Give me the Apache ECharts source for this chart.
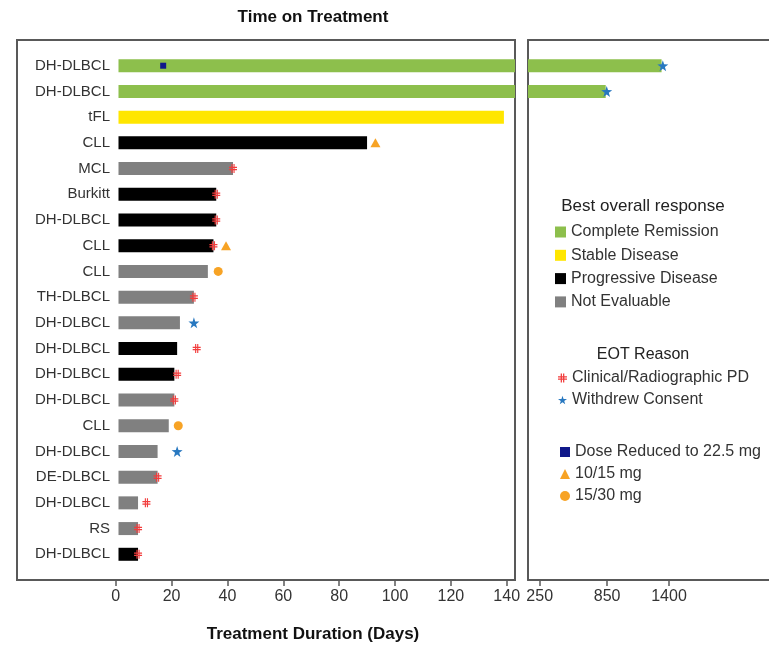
<!DOCTYPE html>
<html><head><meta charset="utf-8">
<script src="https://cdn.jsdelivr.net/npm/echarts@6/dist/echarts.min.js"></script>
<style>html,body{margin:0;padding:0;background:#fff}#c{width:769px;height:645px}</style>
</head><body><div id="c"></div>
<script>
// ---------- DATA ----------
const labels = ['DH-DLBCL','DH-DLBCL','tFL','CLL','MCL','Burkitt','DH-DLBCL','CLL','CLL','TH-DLBCL',
                'DH-DLBCL','DH-DLBCL','DH-DLBCL','DH-DLBCL','CLL','DH-DLBCL','DE-DLBCL','DH-DLBCL','RS','DH-DLBCL'];
const duration = [1334, 837, 139, 90, 42, 36, 36, 35, 33, 28, 23, 22, 21, 21, 19, 15, 15, 8, 8, 8];
const response = ['CR','CR','SD','PD','NE','PD','PD','PD','NE','NE','NE','PD','PD','NE','NE','NE','NE','NE','NE','PD'];
const responseCodes = ['CR','SD','PD','NE'];
const responseNames = ['Complete Remission','Stable Disease','Progressive Disease','Not Evaluable'];

const pdRows = [4, 5, 6, 7, 9, 11, 12, 13, 16, 17, 18, 19];
const pdDays = [42, 36, 36, 35, 28, 29, 22, 21, 15, 11, 8, 8];
const wcRows = [0, 1, 10, 15];
const wcDays = [1345, 846, 28, 22];
const doseRedRows = [0];
const doseRedDays = [17];
const d1015Rows = [3, 7];
const d1015Days = [93, 39.5];
const d1530Rows = [8, 14];
const d1530Days = [36.7, 22.4];

const ticksLeft = [0, 20, 40, 60, 80, 100, 120, 140];
const ticksRight = [250, 850, 1400];

// ---------- STYLE / LAYOUT ----------
const FONT = 'Liberation Sans';
const colors = {CR:'#8dbf4c', SD:'#ffe600', PD:'#000000', NE:'#808080'};
const LEFT_MIN = -35.34, LEFT_MAX = 142.97;
const RIGHT_MIN = 145.9, RIGHT_MAX = 2289.4;
const HASH = 'path://M3,0h1.4v10h-1.4z M5.6,0h1.4v10h-1.4z M0,3h10v1.4h-10z M0,5.6h10v1.4h-10z';

const yCats = [''].concat(labels, ['']);

function barData(code) {
  return [null].concat(duration.map((v, i) => response[i] === code ? v : null), [null]);
}
function pts(rows, days, grid) {
  const out = [];
  rows.forEach((r, k) => {
    const d = days[k];
    if ((grid === 0 && d <= LEFT_MAX) || (grid === 1 && d > LEFT_MAX)) out.push([d, r + 1]);
  });
  return out;
}

const series = [];
[0, 1].forEach(g => {
  responseCodes.forEach((code, k) => {
    series.push({
      type: 'bar', name: responseNames[k], xAxisIndex: g, yAxisIndex: g,
      data: barData(code), barWidth: 13, barGap: '-100%', clip: true,
      itemStyle: {color: colors[code]}, z: 2, silent: true
    });
  });
});
const markerDefs = [
  {name: 'Clinical/Radiographic PD', rows: pdRows, days: pdDays, symbol: HASH, size: [8, 9], color: '#f23c3c'},
  {name: 'Withdrew Consent', rows: wcRows, days: wcDays, symbol: 'path://M50,0 L61.8,35.5 L100,36.3 L69.1,58.8 L80.2,95 L50,73 L19.8,95 L30.9,58.8 L0,36.3 L38.2,35.5 Z', size: 11, color: '#2878c0'},
  {name: 'Dose Reduced to 22.5 mg', rows: doseRedRows, days: doseRedDays, symbol: 'rect', size: 6, color: '#10188a'},
  {name: '10/15 mg', rows: d1015Rows, days: d1015Days, symbol: 'triangle', size: [10, 9], color: '#f7a325'},
  {name: '15/30 mg', rows: d1530Rows, days: d1530Days, symbol: 'circle', size: 9, color: '#f7a325'}
];
[0, 1].forEach(g => {
  markerDefs.forEach(m => {
    series.push({
      type: 'scatter', name: m.name, xAxisIndex: g, yAxisIndex: g,
      data: pts(m.rows, m.days, g), symbol: m.symbol, symbolSize: m.size,
      itemStyle: {color: m.color, opacity: 1}, z: 5, silent: true
    });
  });
});

const axisTextColor = '#333';
const boxColor = '#595959';
const boxLine = {show: true, onZero: false, lineStyle: {color: boxColor, width: 2}};
const fmt = v => String(v);

const option = {
  animation: false,
  backgroundColor: '#fff',
  textStyle: {fontFamily: FONT},
  grid: [
    {left: 17, top: 40, width: 498, height: 540, show: true, borderColor: boxColor, borderWidth: 2, backgroundColor: 'transparent'},
    {left: 528, top: 40, width: 241, height: 540, show: false}
  ],
  xAxis: [
    {gridIndex: 0, type: 'value', min: LEFT_MIN, max: LEFT_MAX, startValue: 1,
     axisLine: {show: false}, splitLine: {show: false},
     axisTick: {show: true, customValues: ticksLeft, length: 6, lineStyle: {color: boxColor, width: 1.5}},
     axisLabel: {customValues: ticksLeft, formatter: fmt, fontSize: 16, color: axisTextColor, margin: 9, fontFamily: FONT}},
    {gridIndex: 1, type: 'value', min: RIGHT_MIN, max: RIGHT_MAX, position: 'bottom',
     axisLine: boxLine, splitLine: {show: false},
     axisTick: {show: true, customValues: ticksRight, length: 6, lineStyle: {color: boxColor, width: 1.5}},
     axisLabel: {customValues: ticksRight, formatter: fmt, fontSize: 16, color: axisTextColor, margin: 9, fontFamily: FONT}},
    {gridIndex: 1, type: 'value', min: RIGHT_MIN, max: RIGHT_MAX, position: 'top',
     axisLine: boxLine, splitLine: {show: false}, axisTick: {show: false}, axisLabel: {show: false}}
  ],
  yAxis: [
    {gridIndex: 0, type: 'category', data: yCats, inverse: true, boundaryGap: false,
     axisLine: {show: false, onZero: false}, axisTick: {show: false}, splitLine: {show: false},
     axisLabel: {fontSize: 15, color: axisTextColor, margin: -93, align: 'right', fontFamily: FONT, interval: 0}},
    {gridIndex: 1, type: 'category', data: yCats, inverse: true, boundaryGap: false, position: 'left',
     axisLine: boxLine, axisTick: {show: false}, splitLine: {show: false},
     axisLabel: {show: false}}
  ],
  legend: [
    {data: responseNames, orient: 'vertical', left: 555, top: 224, itemWidth: 11, itemHeight: 11, itemGap: 7.3,
     icon: 'rect', selectedMode: false, padding: 0,
     textStyle: {fontSize: 16, color: axisTextColor, lineHeight: 16, fontFamily: FONT}},
    {data: ['Clinical/Radiographic PD', 'Withdrew Consent'], orient: 'vertical', left: 558, top: 370,
     itemWidth: 9, itemHeight: 9, itemGap: 6, selectedMode: false, padding: 0,
     textStyle: {fontSize: 16, color: axisTextColor, lineHeight: 16, fontFamily: FONT}},
    {data: ['Dose Reduced to 22.5 mg', '10/15 mg', '15/30 mg'], orient: 'vertical', left: 560, top: 444,
     itemWidth: 10, itemHeight: 10, itemGap: 6, selectedMode: false, padding: 0,
     textStyle: {fontSize: 16, color: axisTextColor, lineHeight: 16, fontFamily: FONT}}
  ],
  graphic: [
    {type: 'text', x: 313, y: 17, style: {text: 'Time on Treatment', font: 'bold 17px "Liberation Sans"', fill: '#111', align: 'center', verticalAlign: 'middle'}},
    {type: 'text', x: 313, y: 634, style: {text: 'Treatment Duration (Days)', font: 'bold 17px "Liberation Sans"', fill: '#111', align: 'center', verticalAlign: 'middle'}},
    {type: 'text', x: 643, y: 206, style: {text: 'Best overall response', font: '17px "Liberation Sans"', fill: '#222', align: 'center', verticalAlign: 'middle'}},
    {type: 'text', x: 643, y: 355, style: {text: 'EOT Reason', font: '16px "Liberation Sans"', fill: '#222', align: 'center', verticalAlign: 'middle'}}
  ],
  series: series
};

const chart = echarts.init(document.getElementById('c'), null, {renderer: 'canvas'});
chart.setOption(option);
</script>
</body></html>
